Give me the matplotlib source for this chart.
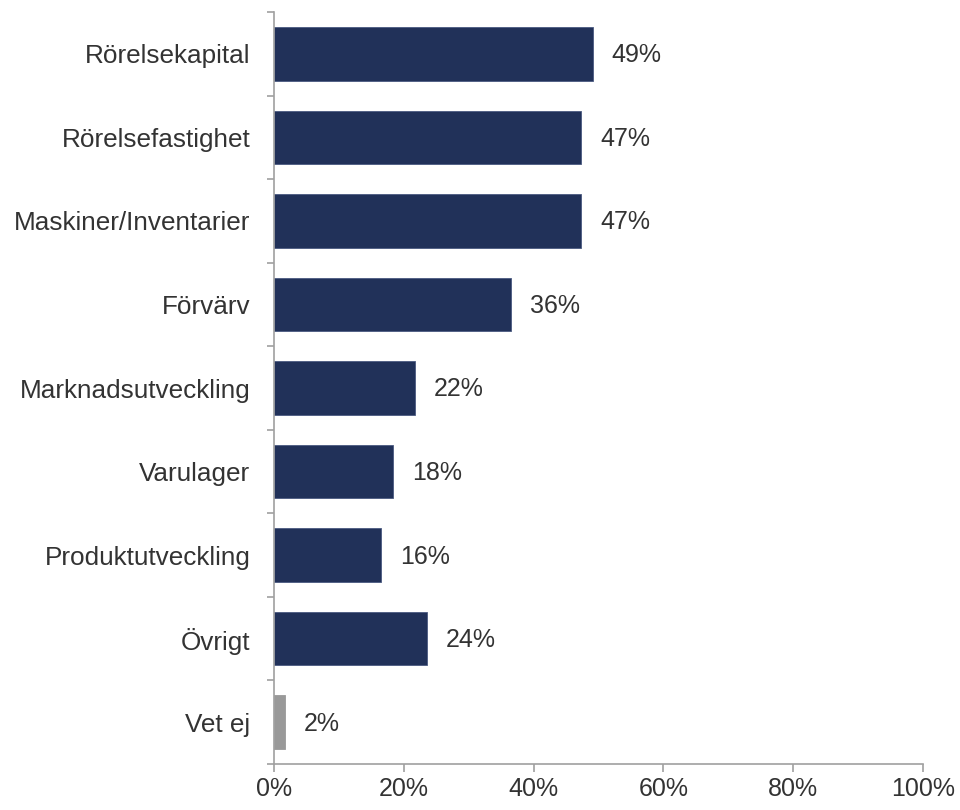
import matplotlib
matplotlib.use("Agg")
import matplotlib.pyplot as plt
import numpy as np

categories = ["Rörelsekapital", "Rörelsefastighet", "Maskiner/Inventarier", "Förvärv",
              "Marknadsutveckling", "Varulager", "Produktutveckling", "Övrigt", "Vet ej"]
values = [49.1, 47.3, 47.3, 36.5, 21.7, 18.3, 16.5, 23.5, 1.7]
labels = ["49%", "47%", "47%", "36%", "22%", "18%", "16%", "24%", "2%"]
colors = ["#213159"] * 8 + ["#999999"]
xticks = [0, 20, 40, 60, 80, 100]
xticklabels = ["0%", "20%", "40%", "60%", "80%", "100%"]

plt.rcParams['font.family'] = ['Liberation Sans', 'DejaVu Sans']

fig = plt.figure(figsize=(9.6, 8.1), dpi=100)
ax = fig.add_axes([274/960, 1-764/810, (923-274)/960, (764-12)/810])

y = np.arange(len(categories))
bars = ax.barh(y, values, height=0.64, color=colors, edgecolor=["#4a5a80"] * 8 + ["#999999"], linewidth=0.6)
for yi, v, lab in zip(y, values, labels):
    ax.annotate(lab, (v, yi), xytext=(13.7, -1), textcoords="offset points",
                ha="left", va="center", fontsize=18, color="#333333")

ax.set_ylim(len(categories) - 0.5, -0.5)
ax.set_xlim(0, 100)
ax.set_yticks(y)
ax.set_yticklabels(categories, fontsize=18.8, color="#333333")
ax.set_yticks(np.arange(-0.5, len(categories)), minor=True)
ax.tick_params(axis="y", which="major", length=0, pad=17)
ax.tick_params(axis="y", which="minor", length=5, width=1.2, color="#a0a0a0", direction="out")
ax.set_xticks(xticks)
ax.set_xticklabels(xticklabels, fontsize=18, color="#333333")
ax.tick_params(axis="x", which="major", length=5.5, width=1.2, color="#a0a0a0", direction="out", pad=4)

for s in ["top", "right"]:
    ax.spines[s].set_visible(False)
for s in ["left", "bottom"]:
    ax.spines[s].set_color("#a0a0a0")
    ax.spines[s].set_linewidth(1.2)

fig.savefig("out.png", dpi=100)
